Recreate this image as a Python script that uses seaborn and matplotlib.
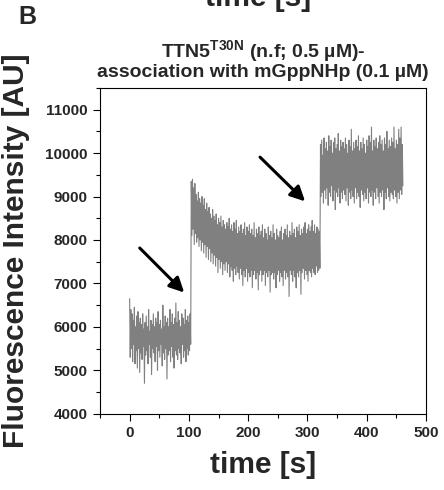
import numpy as np
import pandas as pd
import matplotlib
matplotlib.use("Agg")
import matplotlib.pyplot as plt
import seaborn as sns
from matplotlib.ticker import MultipleLocator

# ---------------- data (1 s sampling) ----------------
seg1_before_injection = [
    6650, 5300, 6400, 5500, 6300, 5200, 6150, 5600, 6450, 5150, 6000, 5450, 6250, 5050, 6350, 5500, 6100, 4950, 6200, 5400,
    6050, 5250, 6300, 5550, 5950, 4700, 6100, 5350, 6250, 5450, 6000, 5150, 6400, 5600, 5900, 5300, 6150, 4900, 6050, 5500,
    6300, 5400, 6000, 5200, 6200, 5550, 6100, 5000, 6350, 5450, 6050, 5300, 6150, 5600, 5950, 5100, 6500, 5400, 6000, 5250,
    6250, 5500, 6100, 4800, 6200, 5350, 6000, 5450, 6400, 5200, 6100, 5550, 6300, 5300, 6050, 5050, 6200, 5450, 6550, 5350,
    6100, 5250, 6350, 5500, 6150, 5400, 6000, 5150, 6300, 5600, 6200, 5300, 6050, 5450, 6400, 5200, 6150, 5500, 6250, 5350,
    6100, 5450, 6300, 5600,
]
seg2_after_first_injection = [
    9350, 8100, 9400, 8250, 9200, 7900, 9300, 8150, 9050, 7950, 8900, 8050, 9100, 7850, 8950, 8000, 8850, 7750, 9000, 7950,
    8800, 7700, 8950, 7900, 8700, 7600, 8850, 7850, 8650, 7550, 8750, 7800, 8600, 7500, 8500, 7700, 8700, 7450, 8550, 7650,
    8450, 7400, 8600, 7600, 8350, 7250, 8500, 7550, 8400, 7350, 8550, 7500, 8300, 7200, 8450, 7450, 8350, 7300, 8250, 7500,
    8400, 7250, 8300, 7450, 8500, 7150, 8250, 7400, 8350, 7300, 8200, 7050, 8400, 7350, 8250, 7200, 8450, 7400, 8150, 7250,
    8300, 7100, 8200, 7350, 8350, 7200, 8150, 6950, 8250, 7300, 8400, 7150, 8100, 7350, 8300, 7050, 8200, 7250, 8350, 7150,
    8150, 7300, 8250, 6900, 8100, 7200, 8400, 7300, 8050, 7100, 8250, 7250, 8150, 6850, 8300, 7200, 8100, 7300, 8200, 7050,
    8350, 7200, 8050, 7300, 8250, 6950, 8150, 7250, 8000, 7150, 8300, 7300, 8100, 6800, 8200, 7200, 8050, 7250, 8350, 7100,
    8150, 7250, 8000, 6900, 8250, 7200, 8100, 7300, 8050, 7050, 8200, 7250, 8300, 7150, 8000, 6950, 8150, 7300, 8250, 7100,
    8100, 7250, 8350, 7150, 8050, 6700, 8200, 7300, 8100, 7200, 8400, 7050, 8150, 7300, 8250, 7150, 8050, 6900, 8300, 7250,
    8200, 7150, 8350, 7300, 8100, 6750, 8250, 7250, 8150, 7350, 8300, 7100, 8400, 7300, 8150, 7200, 8250, 7050, 8350, 7300,
    8200, 7250, 8300, 7150, 8450, 7350, 8200, 7250, 8350, 7200, 8150, 7400, 8300, 7250, 8250, 7300, 8200, 7350,
]
seg3_after_second_injection = [
    10200, 9000, 10300, 9100, 9950, 8850, 10350, 9150, 10100, 8950, 10250, 9200, 10050, 8800, 10400, 9100, 10150, 9000, 10300, 9250,
    10000, 8900, 10250, 9150, 10350, 8700, 10100, 9100, 10200, 9000, 10450, 9200, 10050, 8850, 10300, 9100, 10150, 8950, 10250, 9150,
    10100, 9050, 10350, 8900, 10200, 9200, 10000, 8800, 10300, 9100, 10150, 8950, 10550, 9150, 10050, 9000, 10250, 8850, 10100, 9200,
    10300, 8950, 10150, 9100, 10400, 9000, 10050, 8750, 10250, 9150, 10100, 9050, 10350, 8900, 10200, 9100, 10000, 8950, 10300, 9200,
    10150, 8850, 10400, 9100, 10250, 9000, 10600, 9150, 10050, 8800, 10300, 9100, 10150, 8950, 10350, 9200, 10100, 9000, 10250, 8850,
    10400, 9100, 10200, 9000, 10300, 9150, 10050, 8700, 10350, 9100, 10200, 8950, 10500, 9200, 10100, 9000, 10300, 8900, 10150, 9100,
    10350, 9050, 10250, 8950, 10600, 9150, 10100, 9000, 10300, 8850, 10200, 9100, 10550, 8950, 10350, 9150, 10600, 9050, 10200, 9250,
]
sample_interval_s = 1.0

# injection arrows: (tail time, tail intensity) -> (head time, head intensity)
arrow_tail_t = [17, 220]
arrow_tail_y = [7816, 9908]
arrow_head_t = [92, 296]
arrow_head_y = [6790, 8890]

x_ticks = [0, 100, 200, 300, 400, 500]
y_ticks = [4000, 5000, 6000, 7000, 8000, 9000, 10000, 11000]

intensity = seg1_before_injection + seg2_after_first_injection + seg3_after_second_injection
df = pd.DataFrame({
    "time": np.arange(len(intensity)) * sample_interval_s,
    "intensity": intensity,
})

# ---------------- style ----------------
sns.set_style("ticks")
plt.rcParams["font.family"] = ["Liberation Sans", "DejaVu Sans"]
plt.rcParams["font.weight"] = "bold"
plt.rcParams["mathtext.fontset"] = "custom"
plt.rcParams["mathtext.rm"] = "Liberation Sans:bold"
plt.rcParams["mathtext.bf"] = "Liberation Sans:bold"
plt.rcParams["mathtext.it"] = "Liberation Sans:bold"

fig = plt.figure(figsize=(4.44, 4.90), dpi=100)
ax = fig.add_axes([100 / 444, 1 - 413.7 / 490, 326 / 444, 325.7 / 490])

sns.lineplot(data=df, x="time", y="intensity", ax=ax, color="#808080",
             linewidth=0.8, estimator=None, sort=False)

for tx, ty, hx, hy in zip(arrow_tail_t, arrow_tail_y, arrow_head_t, arrow_head_y):
    ax.annotate("", xy=(hx, hy), xytext=(tx, ty),
                arrowprops=dict(arrowstyle="-|>", color="black", lw=2.2,
                                mutation_scale=22, shrinkA=0, shrinkB=0))

ax.set_xlim(-50, 500)
ax.set_ylim(4000, 11500)
ax.set_xticks(x_ticks)
ax.set_yticks(y_ticks)
ax.xaxis.set_minor_locator(MultipleLocator(50))
ax.yaxis.set_minor_locator(MultipleLocator(500))
ax.tick_params(which="major", direction="out", length=5, width=0.8, labelsize=11, pad=4, color="black")
ax.tick_params(which="minor", direction="out", length=3, width=0.8, color="black")
ax.tick_params(top=False, right=False)
for lab in ax.get_xticklabels() + ax.get_yticklabels():
    lab.set_fontweight("bold")
for s in ax.spines.values():
    s.set_visible(True)
    s.set_linewidth(0.8)
    s.set_color("black")

ax.set_xlabel("time [s]", fontsize=21.5, fontweight="bold", labelpad=8)
ax.set_ylabel("")
fig.text(16 / 444, 1 - 251 / 490, "Fluorescence Intensity [AU]", rotation=90,
         ha="center", va="center", fontsize=21.5, fontweight="bold")

ax.set_title("TTN5$^{\\mathbf{T30N}}$ (n.f; 0.5 µM)-\nassociation with mGppNHp (0.1 µM)",
             fontsize=14, fontweight="bold", linespacing=1.0, pad=8)

fig.text(27 / 444, 1 - 17.5 / 490, "B", ha="center", va="center", fontsize=18, fontweight="bold")
fig.text(258 / 444, 1 - 12 / 490, "time [s]", ha="center", va="bottom", fontsize=21.5, fontweight="bold")

fig.savefig("out.png", dpi=100)
